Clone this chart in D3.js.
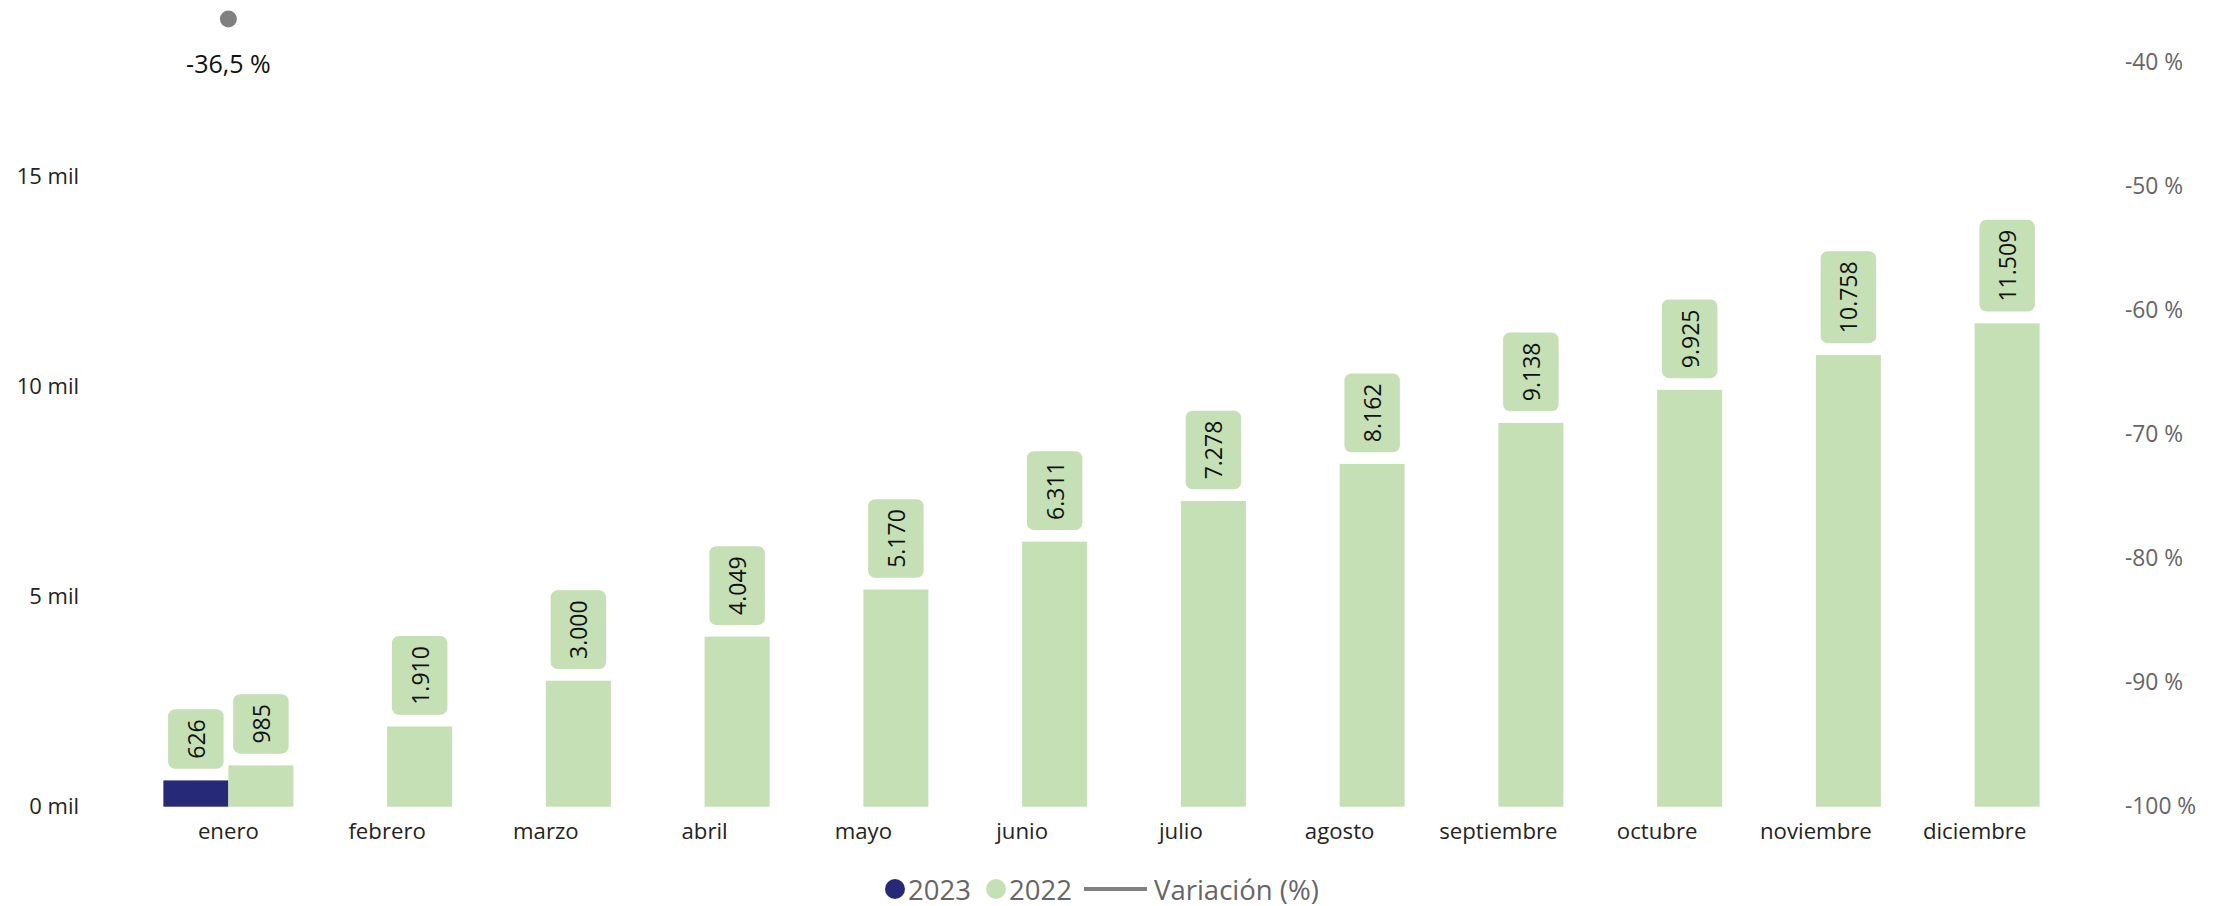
<!DOCTYPE html>
<html>
<head>
<meta charset="utf-8">
<script src="https://cdn.jsdelivr.net/npm/d3@7"></script>
<style>
  html, body { margin: 0; padding: 0; background: #fff; }
  svg { display: block; font-family: "Open Sans", "Noto Sans", sans-serif; }
</style>
</head>
<body>
<svg id="chart" width="2224" height="906"></svg>
<script>
const months = ["enero","febrero","marzo","abril","mayo","junio","julio","agosto","septiembre","octubre","noviembre","diciembre"];
const values2023 = [626, null, null, null, null, null, null, null, null, null, null, null];
const values2022 = [985, 1910, 3000, 4049, 5170, 6311, 7278, 8162, 9138, 9925, 10758, 11509];
const variacion = [-36.5, null, null, null, null, null, null, null, null, null, null, null];
const leftTicks = [0, 5000, 10000, 15000];
const rightTicks = [-100, -90, -80, -70, -60, -50, -40];
const seriesNames = ["2023", "2022"];

const colors = { "2023": "#262977", "2022": "#c5e0b4" };
const svg = d3.select("#chart");

const x = d3.scaleBand().domain(months).range([149, 2054]).paddingInner(0.181).paddingOuter(0.0905);
const xs = d3.scaleBand().domain(seriesNames).range([0, x.bandwidth()]);
const y = d3.scaleLinear().domain([0, 15000]).range([806.7, 176.7]);
const y2 = d3.scaleLinear().domain([-100, -40]).range([806.7, 62.5]);

const fmtNum = d3.formatLocale({decimal: ",", thousands: ".", grouping: [3], currency: ["", ""]}).format(",d");

// Left axis
const leftAxis = d3.axisLeft(y).tickValues(leftTicks).tickSize(0).tickPadding(0)
  .tickFormat(d => (d / 1000) + " mil");
const gL = svg.append("g").attr("transform", "translate(79,0)").call(leftAxis);
gL.select(".domain").remove();
gL.selectAll("text").attr("font-size", 22).attr("fill", "#252423").attr("font-family", "Open Sans");

// Right axis
const rightAxis = d3.axisRight(y2).tickValues(rightTicks).tickSize(0).tickPadding(0)
  .tickFormat(d => d + " %");
const gR = svg.append("g").attr("transform", "translate(2125,0)").call(rightAxis);
gR.select(".domain").remove();
gR.selectAll("text").attr("font-size", 22.8).attr("fill", "#666666").attr("font-family", "Open Sans");

// X axis
const xAxis = d3.axisBottom(x).tickSize(0).tickPadding(0);
const gX = svg.append("g").attr("transform", "translate(0,823)").call(xAxis);
gX.select(".domain").remove();
gX.selectAll("text").attr("font-size", 22.2).attr("fill", "#252423").attr("font-family", "Open Sans");

// Bars
const rows = months.map((m, i) => ({ m, vals: [
  { key: "2023", v: values2023[i] },
  { key: "2022", v: values2022[i] }
]}));

const groups = svg.append("g").selectAll("g").data(rows).join("g")
  .attr("transform", d => `translate(${x(d.m)},0)`);

const items = groups.selectAll("g.item").data(d => d.vals.filter(e => e.v != null)).join("g").attr("class", "item");

items.append("rect")
  .attr("x", d => xs(d.key))
  .attr("width", xs.bandwidth())
  .attr("y", d => y(d.v))
  .attr("height", d => y(0) - y(d.v))
  .attr("fill", d => colors[d.key]);

// Data labels (rotated, in rounded boxes)
const labelFont = 23;
items.each(function(d) {
  const g = d3.select(this);
  const txt = fmtNum(d.v);
  const cx = xs(d.key) + xs.bandwidth() / 2;
  const t = g.append("text")
    .text(txt)
    .attr("font-size", labelFont)
    .attr("fill", "#111")
    .attr("font-family", "Open Sans")
    .attr("text-anchor", "middle")
    .attr("dominant-baseline", "central");
  const len = t.node().getComputedTextLength();
  const boxH = len + 20;
  const boxW = 55.5;
  const bottom = y(d.v) - 11.7;
  const cy = bottom - boxH / 2;
  g.insert("rect", "text")
    .attr("x", cx - boxW / 2)
    .attr("y", bottom - boxH)
    .attr("width", boxW)
    .attr("height", boxH)
    .attr("rx", 7)
    .attr("fill", colors["2022"]);
  t.attr("transform", `translate(${cx},${cy}) rotate(-90)`);
});

// Variation line + points
const varData = months.map((m, i) => ({ m, v: variacion[i] })).filter(d => d.v != null);
const line = d3.line().x(d => x(d.m) + x.bandwidth() / 2).y(d => y2(d.v));
svg.append("path").datum(varData).attr("d", line).attr("fill", "none").attr("stroke", "#808080").attr("stroke-width", 3);
svg.selectAll("circle.pt").data(varData).join("circle").attr("class", "pt")
  .attr("cx", d => x(d.m) + x.bandwidth() / 2)
  .attr("cy", d => y2(d.v))
  .attr("r", 8.5)
  .attr("fill", "#808080");
svg.selectAll("text.vl").data(varData).join("text").attr("class", "vl")
  .attr("x", d => x(d.m) + x.bandwidth() / 2)
  .attr("y", d => y2(d.v) + 44)
  .attr("text-anchor", "middle")
  .attr("dominant-baseline", "central")
  .attr("font-size", 25)
  .attr("fill", "#111")
  .attr("font-family", "Open Sans")
  .text(d => String(d.v).replace(".", ",") + " %");

// Legend
const lg = svg.append("g").attr("font-family", "Open Sans").attr("font-size", 27.5).attr("fill", "#666666");
lg.append("circle").attr("cx", 895).attr("cy", 889).attr("r", 10).attr("fill", colors["2023"]);
lg.append("text").attr("x", 908).attr("y", 889).attr("dominant-baseline", "central").text(seriesNames[0]);
lg.append("circle").attr("cx", 996).attr("cy", 889).attr("r", 10).attr("fill", colors["2022"]);
lg.append("text").attr("x", 1009).attr("y", 889).attr("dominant-baseline", "central").text(seriesNames[1]);
lg.append("line").attr("x1", 1084).attr("x2", 1147).attr("y1", 889).attr("y2", 889).attr("stroke", "#808080").attr("stroke-width", 4);
lg.append("text").attr("x", 1154).attr("y", 889).attr("dominant-baseline", "central").text("Variación (%)");
</script>
</body>
</html>
